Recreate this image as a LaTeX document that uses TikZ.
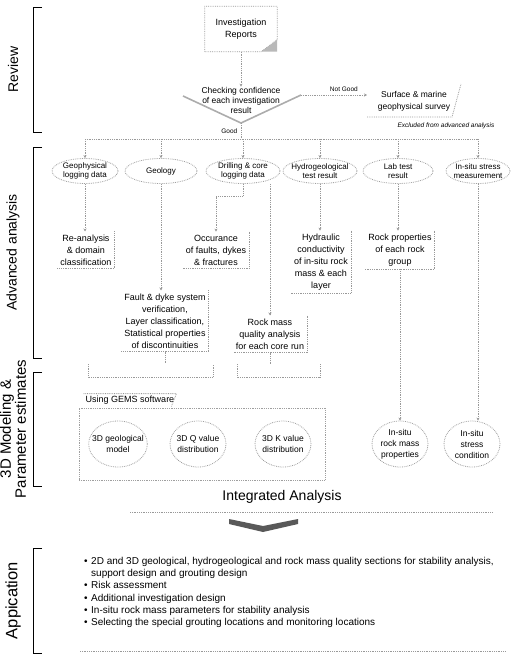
\documentclass[tikz,border=0pt]{standalone}
\usepackage{fontspec}
\setmainfont{Liberation Sans}
\usetikzlibrary{arrows.meta,shapes.geometric}
\newcommand{\itm}{\makebox[7pt][l]{\textbullet}}

\begin{document}
\begin{tikzpicture}[x=1pt,y=-1pt,font=\fontsize{9}{12}\selectfont,
  dotline/.style={gray!80,densely dotted,thick},
  arr/.style={dotline,-{Stealth[length=3pt,width=3pt]}},
  oval/.style={ellipse,draw=gray!75,densely dotted,thick,inner sep=-3pt,
    minimum width=66pt,minimum height=25pt,align=center,font=\fontsize{8}{9}\selectfont},
  model/.style={ellipse,draw=gray!75,densely dotted,thick,inner sep=-5pt,
    minimum width=56pt,minimum height=46pt,align=center,font=\fontsize{8.5}{11}\selectfont},
  box/.style={align=center,inner sep=3pt,font=\fontsize{9}{12}\selectfont},
  lbl/.style={text=black,font=\fontsize{6.5}{7}\selectfont},
  brk/.style={line width=.8pt},
  side/.style={rotate=90,align=center,font=\fontsize{14}{16}\selectfont}]
  \useasboundingbox (0,0) rectangle (512,656);

  % stage brackets on the left
  \foreach \t/\b/\s/\lab in {7/132/14/Review,147/358/14/Advanced analysis,
    372/486/15/3D Modeling \&\\Parameter estimates,548/653/16.5/Appication} {
    \draw[brk] (42,\t) -| (33,\b) -- (42,\b);
    \node[side,font=\fontsize{\s}{\s}\selectfont] (sd\t) at (13,{(\t+\b)/2}) {\lab};
  }

  % review
  \node[box,minimum width=72pt,minimum height=45pt] (rep) at (241,29) {Investigation\\Reports};
  \draw[dotline] (rep.south west) -- (rep.north west) -- (rep.north east)
    -- ([yshift=12pt]rep.south east) -- ([xshift=-16pt]rep.south east) -- cycle;
  \fill[gray!55] ([yshift=12pt]rep.south east) -- (rep.south east) -- ([xshift=-16pt]rep.south east) -- cycle;

  \node[inner sep=0pt,align=center,font=\fontsize{8.5}{10}\selectfont] (chk) at (241,100)
    {Checking confidence\\of each investigation\\result};
  \coordinate (vl) at (183,96);
  \coordinate (apx) at (241,123);
  \coordinate (vr) at (301,95);
  \draw[gray!65,line width=1.6pt] (vl) -- (apx) -- (vr);
  \draw[arr] (rep.south) -- (chk.north);

  \node[align=center,font=\fontsize{8.5}{12}\selectfont,inner sep=1pt] (srv) at (414,101)
    {Surface \& marine\\geophysical survey};
  \coordinate (sb1) at (367,117);
  \coordinate (sb2) at (452,117);
  \coordinate (sb3) at (461,84);
  \draw[dotline] (sb1) -- (sb2) -- (sb3);
  \draw[arr] (vr) -- node[lbl,above,pos=.65] (ngd) {Not Good} (vr -| sb1);
  \node[font=\fontsize{6.5}{7}\itshape] (exc) at (446,126) {Excluded from advanced analysis};

  % advanced analysis
  \coordinate (bus) at (241,139);
  \draw[dotline] (apx) -- node[lbl,left] (gd) {Good} (bus);
  \foreach \n/\x/\w/\t in {geo/85/66/Geophysical\\logging data,gly/161/72/Geology,
    dri/243/74/Drilling \& core\\logging data,hyd/320/74/Hydrogeological\\test result,
    lab/398/70/Lab test\\result,ins/478/64/In-situ stress\\measurement}
    \node[oval,minimum width=\w pt] (\n) at (\x,171) {\t};
  \draw[dotline] (geo.north |- bus) -- (ins.north |- bus);
  \foreach \n in {geo,gly,dri,hyd,lab,ins}
    \draw[arr] (\n.north |- bus) -- (\n.north);

  \node[box] (rea) at (86,250) {Re-analysis\\\& domain\\classification};
  \node[box] (occ) at (216,250) {Occurance\\of faults, dykes\\\& fractures};
  \node[box] (hyc) at (321,262) {Hydraulic\\conductivity\\of in-situ rock\\mass \& each\\layer};
  \node[box] (rpr) at (400,250) {Rock properties\\of each rock\\group};
  \node[box] (flt) at (165,321) {Fault \& dyke system\\verification,\\Layer classification,\\Statistical properties\\of discontinuities};
  \node[box] (rmq) at (270,334) {Rock mass\\quality analysis\\for each core run};
  \foreach \n in {rea,occ,hyc,rpr,flt,rmq}
    \draw[dotline] (\n.north east) |- (\n.south west);

  \draw[arr] (geo.south) -- (geo.south |- rea.north);
  \draw[arr] (gly.south) -- (gly.south |- flt.north);
  \draw[arr] (dri.south) -- ++(0,12) -| (occ.north);
  \draw[arr] (rmq.north |- dri.south) -- (rmq.north);
  \draw[arr] (hyd.south) -- (hyd.south |- hyc.north);
  \draw[arr] (lab.south) -- (lab.south |- rpr.north);

  \coordinate (gl) at (88,364);
  \coordinate (gr) at (213,364);
  \coordinate (ql) at (237,364);
  \coordinate (qr) at (320,364);
  \draw[dotline] (gl) -- ++(0,13) -| (gr);
  \draw[dotline] (ql) -- ++(0,13) -| (qr);
  \draw[dotline] (flt.south) -- (flt.south |- gl);
  \draw[dotline] (rmq.south) -- (rmq.south |- ql);

  % 3D modeling
  \node[font=\fontsize{9}{10}\selectfont,inner sep=2pt] (gms) at (130,400) {Using GEMS software};
  \draw[dotline] (gms.north west) -- (gms.north east) -- ([xshift=-5pt]gms.south east);
  \node[draw=gray!75,densely dotted,thick,minimum width=246pt,minimum height=72pt] (gbx) at (202,444) {};
  \foreach \n/\x/\t in {g3d/118/3D geological\\model,q3d/198/3D Q value\\distribution,
    k3d/283/3D K value\\distribution,irm/400/In-situ\\rock mass\\properties,
    isc/472/In-situ\\stress\\condition}
    \node[model] (\n) at (\x,444) {\t};
  \draw[arr] (rpr.south) -- (rpr.south |- irm.north);
  \draw[arr] (ins.south) -- (ins.south |- isc.north);

  % integrated analysis and application
  \node[font=\fontsize{14}{16}\selectfont] (ina) at (282,497) {Integrated Analysis};
  \coordinate (s1) at (130,512);
  \coordinate (s2) at (492,512);
  \draw[dotline] (s1) -- (s2);
  \coordinate (chv) at (263,526);
  \fill[black!65] ([shift={(-34,-7)}]chv) -- (chv) -- ([shift={(35,-7)}]chv)
    -- ([shift={(35,-2)}]chv) -- ([shift={(0,6)}]chv) -- ([shift={(-34,-2)}]chv) -- cycle;

  \node[anchor=north west,align=left,inner sep=0pt,font=\fontsize{10}{12.2}\selectfont] (app) at (84,557)
    {\itm 2D and 3D geological, hydrogeological and rock mass quality sections for stability analysis,\\
     \hspace*{7pt}support design and grouting design\\
     \itm Risk assessment\\
     \itm Additional investigation design\\
     \itm In-situ rock mass parameters for stability analysis\\
     \itm Selecting the special grouting locations and monitoring locations};
  \coordinate (s3) at (80,651);
  \coordinate (s4) at (506,651);
  \draw[dotline] (s3) -- (s4);
\end{tikzpicture}
\end{document}
